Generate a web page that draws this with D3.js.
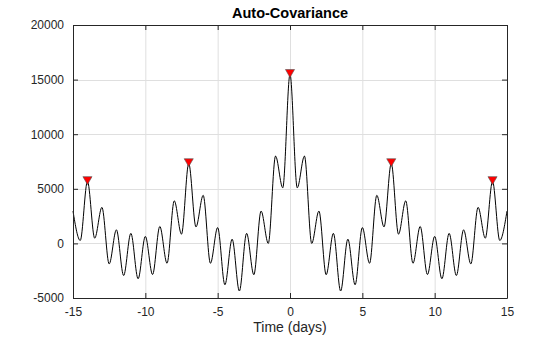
<!DOCTYPE html>
<html>
<head>
<meta charset="utf-8">
<script src="https://cdn.jsdelivr.net/npm/d3@7"></script>
<style>
  html, body { margin: 0; padding: 0; background: #fff; }
  svg { display: block; }
  text { font-family: "Liberation Sans", Arial, Helvetica, sans-serif; }
</style>
</head>
<body>
<svg id="chart" width="560" height="337"></svg>
<script>
// Lag (days) at half-day steps and the auto-covariance value
const lagDays = [
  -15, -14.5, -14, -13.5, -13, -12.5, -12, -11.5, -11, -10.5,
  -10, -9.5, -9, -8.5, -8, -7.5, -7, -6.5, -6, -5.5,
  -5, -4.5, -4, -3.5, -3, -2.5, -2, -1.5, -1, -0.5,
  0,
  0.5, 1, 1.5, 2, 2.5, 3, 3.5, 4, 4.5, 5,
  5.5, 6, 6.5, 7, 7.5, 8, 8.5, 9, 9.5, 10,
  10.5, 11, 11.5, 12, 12.5, 13, 13.5, 14, 14.5, 15
];
const autoCov = [
  2960, 270, 5690, 480, 3300, -1880, 1240, -2940, 920, -3240,
  640, -2850, 1550, -1820, 3900, 845, 7330, 1510, 4400, -1820,
  1450, -3790, 390, -4360, 920, -2870, 2960, 0, 8000, 5090,
  15500,
  5090, 8000, 0, 2960, -2870, 920, -4360, 390, -3790, 1450,
  -1820, 4400, 1510, 7330, 845, 3900, -1820, 1550, -2850, 640,
  -3240, 920, -2940, 1240, -1880, 3300, 480, 5690, 270, 2960
];
// Detected peaks
const peakDays = [-14, -7, 0, 7, 14];
const peakValues = [5690, 7330, 15500, 7330, 5690];

const xTicks = [-15, -10, -5, 0, 5, 10, 15];
const yTicks = [-5000, 0, 5000, 10000, 15000, 20000];

const titleText = "Auto-Covariance";
const xLabelText = "Time (days)";

const svg = d3.select("#chart");
const m = { left: 73, right: 507, top: 25, bottom: 298 };
const axisColor = "#262626";

const x = d3.scaleLinear().domain([-15, 15]).range([m.left, m.right]);
const y = d3.scaleLinear().domain([-5000, 20000]).range([m.bottom, m.top]);

// grid
const grid = svg.append("g");
grid.selectAll("line.vx").data(xTicks).join("line")
  .attr("x1", d => x(d) + 0.5).attr("x2", d => x(d) + 0.5)
  .attr("y1", m.top).attr("y2", m.bottom)
  .attr("stroke", "#dfdfdf").attr("stroke-width", 1);
grid.selectAll("line.hy").data(yTicks).join("line")
  .attr("y1", d => Math.round(y(d)) + 0.5).attr("y2", d => Math.round(y(d)) + 0.5)
  .attr("x1", m.left).attr("x2", m.right)
  .attr("stroke", "#dfdfdf").attr("stroke-width", 1);

// curve
const pts = lagDays.map((d, i) => [d, autoCov[i]]);
const line = d3.line().x(d => x(d[0])).y(d => y(d[1])).curve(d3.curveMonotoneX);
svg.append("path").datum(pts)
  .attr("d", line)
  .attr("fill", "none").attr("stroke", "#000").attr("stroke-width", 1);

// peak markers (downward triangles)
const tri = d3.symbol().type(d3.symbolTriangle).size(36);
svg.selectAll("path.pk").data(peakDays.map((d, i) => [d, peakValues[i]])).join("path")
  .attr("d", tri)
  .attr("transform", d => `translate(${x(d[0])},${y(d[1]) - 2}) rotate(180)`)
  .attr("fill", "#ff0000").attr("stroke", "#555").attr("stroke-width", 0.6);

// axes
const fmt = d => String(d);
const xAxisB = d3.axisBottom(x).tickValues(xTicks).tickFormat(fmt).tickSizeInner(-5).tickSizeOuter(0).tickPadding(9);
const xAxisT = d3.axisTop(x).tickValues(xTicks).tickFormat("").tickSizeInner(-5).tickSizeOuter(0);
const yAxisL = d3.axisLeft(y).tickValues(yTicks).tickFormat(fmt).tickSizeInner(-5).tickSizeOuter(0).tickPadding(9);
const yAxisR = d3.axisRight(y).tickValues(yTicks).tickFormat("").tickSizeInner(-5).tickSizeOuter(0);

function style(g) {
  g.select(".domain").attr("stroke", axisColor);
  g.selectAll(".tick line").attr("stroke", axisColor);
  g.selectAll(".tick text").attr("fill", axisColor).style("font-size", "12px")
    .style("font-family", "'Liberation Sans', Arial, sans-serif");
}
svg.append("g").attr("transform", `translate(0,${m.bottom})`).call(xAxisB).call(style);
svg.append("g").attr("transform", `translate(0,${m.top})`).call(xAxisT).call(style);
svg.append("g").attr("transform", `translate(${m.left},0)`).call(yAxisL).call(style);
svg.append("g").attr("transform", `translate(${m.right},0)`).call(yAxisR).call(style);

// title and label
svg.append("text").attr("x", (m.left + m.right) / 2).attr("y", 18)
  .attr("text-anchor", "middle").attr("fill", "#000")
  .style("font-size", "14.5px").style("font-weight", "bold").text(titleText);
svg.append("text").attr("x", (m.left + m.right) / 2).attr("y", 332)
  .attr("text-anchor", "middle").attr("fill", axisColor)
  .style("font-size", "14px").text(xLabelText);
</script>
</body>
</html>
